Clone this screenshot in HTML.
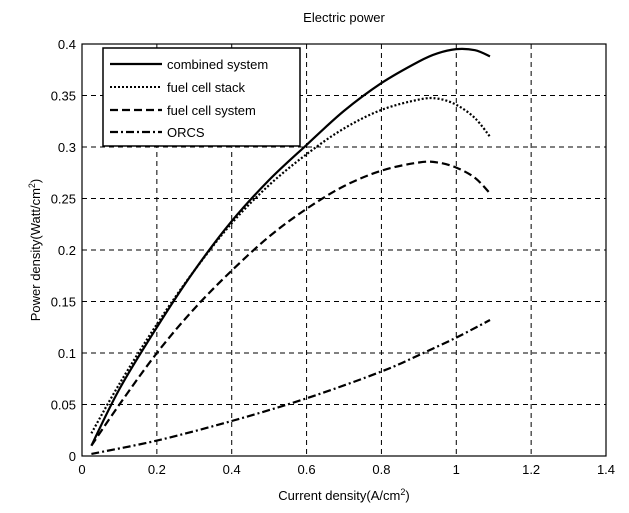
<!DOCTYPE html>
<html><head><meta charset="utf-8"><style>
body{margin:0;background:#fff;}
svg{display:block;font-family:"Liberation Sans",Arial,sans-serif;}
</style></head><body>
<svg id="chart" width="629" height="513" viewBox="0 0 629 513">
<rect width="629" height="513" fill="#fff"/>
<g id="grid"></g>
<g id="series"></g>
<rect x="82" y="44" width="524" height="412" fill="none" stroke="#000" stroke-width="1.2"/>
<g id="ticks"></g>
<text x="344" y="22" font-size="13" text-anchor="middle">Electric power</text>
<text x="344" y="500" font-size="13" text-anchor="middle">Current density(A/cm<tspan dy="-5" font-size="9">2</tspan><tspan dy="5">)</tspan></text>
<text transform="translate(40,250) rotate(-90)" font-size="13" text-anchor="middle">Power density(Watt/cm<tspan dy="-5" font-size="9">2</tspan><tspan dy="5">)</tspan></text>
<g>
<rect x="103" y="48" width="197" height="98" fill="#fff" stroke="#000" stroke-width="1.5"/>
<line x1="110" y1="64" x2="162" y2="64" stroke="#000" stroke-width="2.2"/>
<text x="167" y="69" font-size="13">combined system</text>
<line x1="110" y1="87" x2="162" y2="87" stroke="#000" stroke-width="2" stroke-dasharray="2 2"/>
<text x="167" y="92" font-size="13">fuel cell stack</text>
<line x1="110" y1="110" x2="162" y2="110" stroke="#000" stroke-width="2.2" stroke-dasharray="8 4"/>
<text x="167" y="115" font-size="13">fuel cell system</text>
<line x1="110" y1="132" x2="162" y2="132" stroke="#000" stroke-width="2.2" stroke-dasharray="8 3 2 3"/>
<text x="167" y="137" font-size="13">ORCS</text>
</g>
</svg>
<script>
const xTicks=[0,0.2,0.4,0.6,0.8,1,1.2,1.4];
const yTicks=[0,0.05,0.1,0.15,0.2,0.25,0.3,0.35,0.4];
const xTickLabels=["0","0.2","0.4","0.6","0.8","1","1.2","1.4"];
const yTickLabels=["0","0.05","0.1","0.15","0.2","0.25","0.3","0.35","0.4"];
const combinedX=[0.025,0.1,0.2,0.3,0.4,0.5,0.6,0.7,0.8,0.9,0.95,1.0,1.05,1.09];
const combinedY=[0.01,0.065,0.125,0.18,0.228,0.268,0.302,0.335,0.362,0.383,0.391,0.395,0.394,0.388];
const stackX=[0.025,0.1,0.2,0.3,0.4,0.5,0.6,0.7,0.8,0.9,0.95,1.0,1.05,1.09];
const stackY=[0.022,0.07,0.128,0.18,0.226,0.263,0.293,0.318,0.336,0.346,0.347,0.341,0.328,0.31];
const systemX=[0.025,0.1,0.2,0.3,0.4,0.5,0.6,0.7,0.8,0.9,0.95,1.0,1.05,1.09];
const systemY=[0.01,0.05,0.1,0.143,0.18,0.213,0.24,0.262,0.277,0.285,0.285,0.28,0.27,0.255];
const orcsX=[0.025,0.2,0.4,0.6,0.8,0.9,1.0,1.09];
const orcsY=[0.002,0.015,0.034,0.056,0.082,0.098,0.115,0.132];
const NS="http://www.w3.org/2000/svg";
const X=v=>82+v/1.4*524, Y=v=>456-v/0.4*412;
const grid=document.getElementById('grid'),ticks=document.getElementById('ticks'),ser=document.getElementById('series');
function mk(tag,attrs,parent){const e=document.createElementNS(NS,tag);for(const k in attrs)e.setAttribute(k,attrs[k]);parent.appendChild(e);return e;}
xTicks.forEach((v,i)=>{
  if(i>0&&i<xTicks.length-1){const g=mk('line',{x1:X(v),x2:X(v),y1:44,y2:456,stroke:'#000','stroke-width':1,'stroke-dasharray':'5 4'},grid);
  
  }
  const t=mk('text',{x:X(v),y:474,'font-size':13,'text-anchor':'middle'},ticks);
  
  
  t.textContent=xTickLabels[i];
});
yTicks.forEach((v,i)=>{
  if(i>0&&i<yTicks.length-1){const g=mk('line',{x1:82,x2:606,y1:Y(v),y2:Y(v),stroke:'#000','stroke-width':1,'stroke-dasharray':'5 4'},grid);
  
  }
  const t=mk('text',{x:76,y:Y(v)+5,'font-size':13,'text-anchor':'end'},ticks);
  
  
  t.textContent=yTickLabels[i];
});
function line(xs,ys,dash,name){
  const P=xs.map((x,i)=>[X(x),Y(ys[i])]);
  let d='M'+P[0][0].toFixed(1)+' '+P[0][1].toFixed(1);
  for(let i=0;i<P.length-1;i++){
    const p0=P[Math.max(i-1,0)],p1=P[i],p2=P[i+1],p3=P[Math.min(i+2,P.length-1)];
    const c1=[p1[0]+(p2[0]-p0[0])/6,p1[1]+(p2[1]-p0[1])/6];
    const c2=[p2[0]-(p3[0]-p1[0])/6,p2[1]-(p3[1]-p1[1])/6];
    d+=' C'+c1[0].toFixed(1)+' '+c1[1].toFixed(1)+' '+c2[0].toFixed(1)+' '+c2[1].toFixed(1)+' '+p2[0].toFixed(1)+' '+p2[1].toFixed(1);
  }
  const p=mk('path',{d:d,fill:'none',stroke:'#000','stroke-width':2.2,'stroke-dasharray':dash,'stroke-linejoin':'round'},ser);
  
  
}
line(combinedX,combinedY,'none','combined-system-line');
line(stackX,stackY,'2 2','fuel-cell-stack-line');
line(systemX,systemY,'8 4','fuel-cell-system-line');
line(orcsX,orcsY,'8 3 2 3','orcs-line');
</script>
</body></html>
